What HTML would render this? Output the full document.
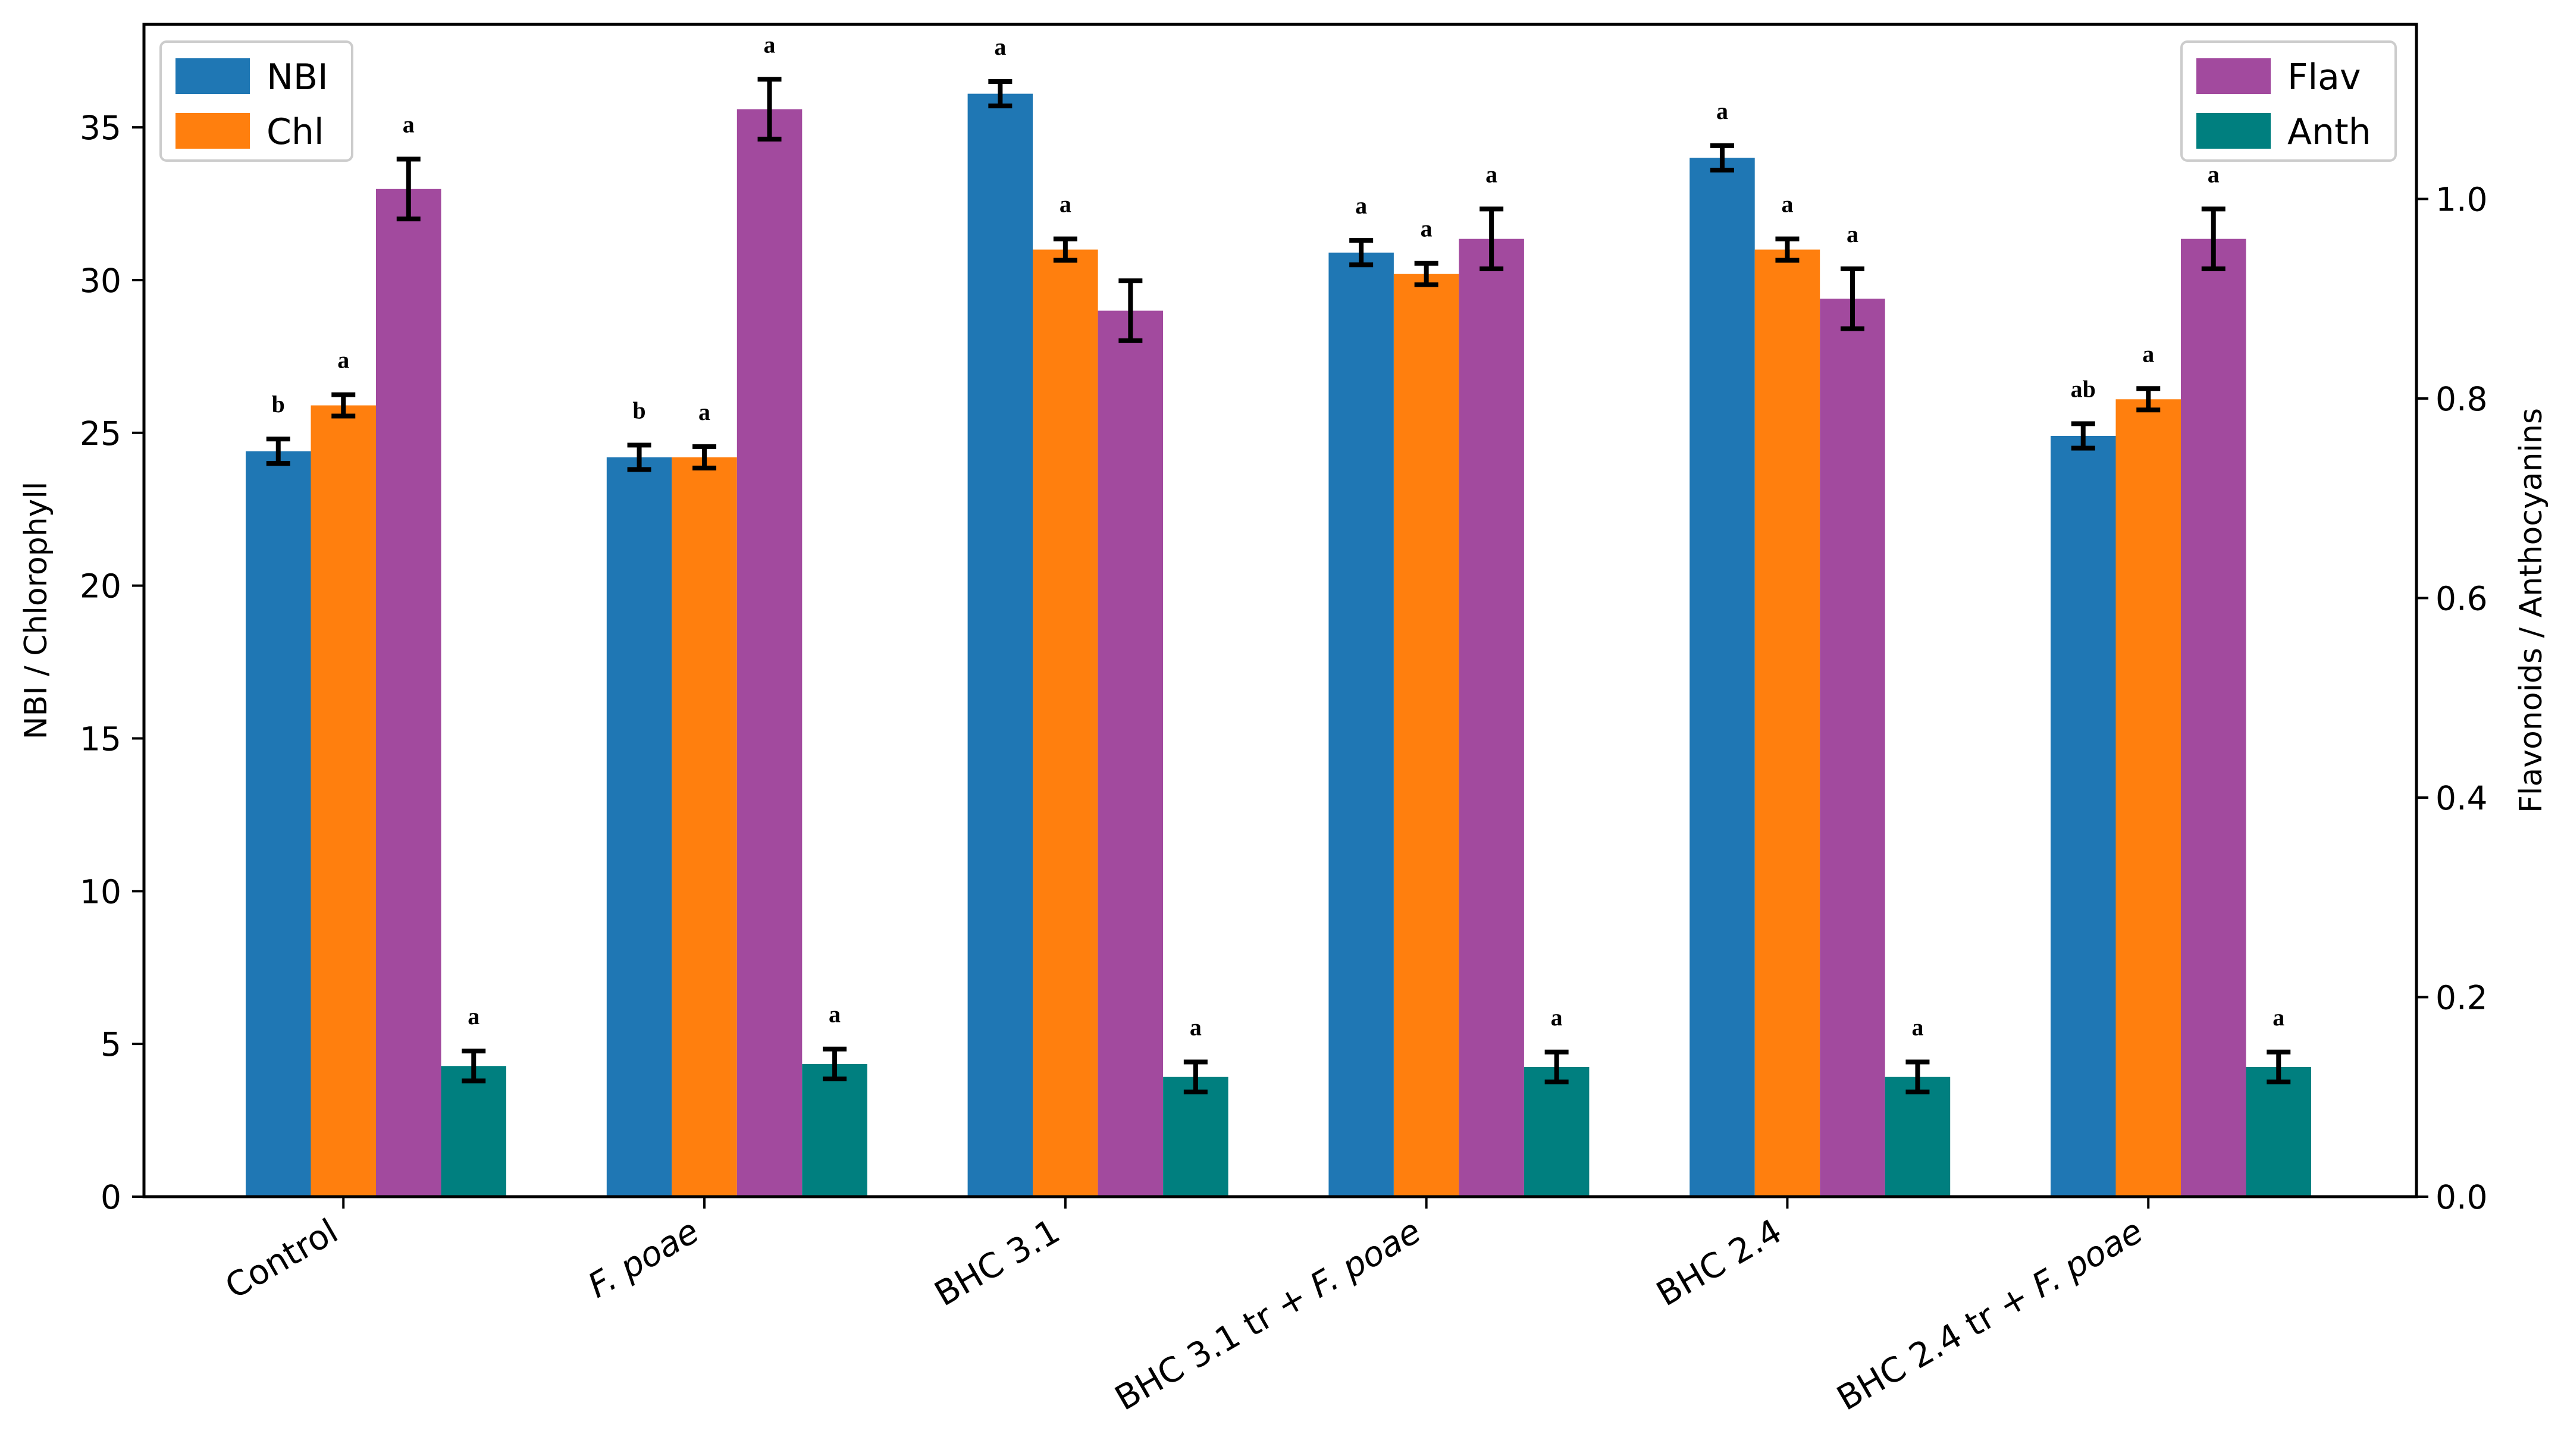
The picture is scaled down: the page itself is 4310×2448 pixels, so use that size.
<!DOCTYPE html>
<html><head><meta charset="utf-8"><style>
html,body{margin:0;padding:0;background:#fff;}
svg{display:block;font-family:"DejaVu Sans","Liberation Sans",sans-serif;}
</style></head><body>
<svg id="chart" width="4310" height="2448" viewBox="0 0 4310 2448" xmlns="http://www.w3.org/2000/svg">
<rect width="4310" height="2448" fill="#fff"/>
<g id="bars"></g>
<g id="axes"></g>
</svg>
<script>
const categories = ["Control", "F. poae", "BHC 3.1", "BHC 3.1 tr + F. poae", "BHC 2.4", "BHC 2.4 tr + F. poae"];
const nbi = [24.4, 24.2, 36.1, 30.9, 34.0, 24.9];
const nbiErr = [0.4, 0.4, 0.4, 0.4, 0.4, 0.4];
const chl = [25.9, 24.2, 31.0, 30.2, 31.0, 26.1];
const chlErr = [0.35, 0.35, 0.35, 0.35, 0.35, 0.35];
const flav = [1.01, 1.09, 0.888, 0.96, 0.90, 0.96];
const flavErr = [0.03, 0.03, 0.03, 0.03, 0.03, 0.03];
const anth = [0.131, 0.133, 0.12, 0.13, 0.12, 0.13];
const anthErr = [0.015, 0.015, 0.015, 0.015, 0.015, 0.015];
const nbiLetters = ["b","b","a","a","a","ab"];
const chlLetters = ["a","a","a","a","a","a"];
const flavLetters = ["a","a","","a","a","a"];
const anthLetters = ["a","a","a","a","a","a"];
const leftTicks = [0,5,10,15,20,25,30,35];
const rightTicks = [0.0,0.2,0.4,0.6,0.8,1.0];

const NS="http://www.w3.org/2000/svg";
const L=242, R=4062, T=41, B=2012;
const leftMax=38.37, rightMax=1.175;
const yL=v=>B-(v/leftMax)*(B-T);
const yR=v=>B-(v/rightMax)*(B-T);
const barW=109.5, g0=413, gStep=606.8;
const xBar=(i,k)=>g0+i*gStep+k*barW;
const bars=document.getElementById('bars');
const axes=document.getElementById('axes');
function mk(tag,attrs,parent){const e=document.createElementNS(NS,tag);for(const k in attrs)e.setAttribute(k,attrs[k]);parent.appendChild(e);return e;}

const series=[
 {vals:nbi,err:nbiErr,lets:nbiLetters,col:"#1f77b4",y:yL,name:"nbi"},
 {vals:chl,err:chlErr,lets:chlLetters,col:"#ff7f0e",y:yL,name:"chl"},
 {vals:flav,err:flavErr,lets:flavLetters,col:"#a24a9e",y:yR,name:"flav"},
 {vals:anth,err:anthErr,lets:anthLetters,col:"#007f7f",y:yR,name:"anth"}];
series.forEach((s,k)=>{
 s.vals.forEach((v,i)=>{
  const x=xBar(i,k), y=s.y(v);
  const r=mk('rect',{x:x,y:y,width:barW,height:B-y,fill:s.col},bars);
  
  
  const cx=x+barW/2, yt=s.y(v+s.err[i]), yb=s.y(v-s.err[i]);
  const eb=mk('path',{d:`M${cx},${yt}V${yb}M${cx-20},${yt}H${cx+20}M${cx-20},${yb}H${cx+20}`,stroke:"#000","stroke-width":8,fill:"none"},bars);
  
  
  if(s.lets[i]){
   const t=mk('text',{x:cx,y:yt-45,"text-anchor":"middle","font-family":"Liberation Serif, serif","font-weight":"bold","font-size":40},bars);
   t.textContent=s.lets[i];
   
   
  }
 });
});
const fr=mk('rect',{x:L,y:T,width:R-L,height:B-T,fill:"none",stroke:"#000","stroke-width":5},axes);


leftTicks.forEach(v=>{
 const y=yL(v);
 mk('line',{x1:L-20,x2:L,y1:y,y2:y,stroke:"#000","stroke-width":4},axes);
 const t=mk('text',{x:L-38,y:y+20,"text-anchor":"end","font-size":55},axes);
 t.textContent=String(v);
 
 
});
rightTicks.forEach(v=>{
 const y=yR(v);
 mk('line',{x1:R,x2:R+20,y1:y,y2:y,stroke:"#000","stroke-width":4},axes);
 const t=mk('text',{x:R+32,y:y+20,"text-anchor":"start","font-size":55},axes);
 t.textContent=v.toFixed(1);
 
 
});
categories.forEach((c,i)=>{
 const tx=xBar(i,1)+barW/2;
 mk('line',{x1:tx,x2:tx,y1:B,y2:B+20,stroke:"#000","stroke-width":4},axes);
 const ax=tx-5, ay=B+70;
 const t=mk('text',{x:ax,y:ay,"text-anchor":"end","font-size":57,transform:`rotate(-30 ${ax} ${ay})`},axes);
 
 
 const parts=c.split("F. poae");
 if(parts.length>1){
  if(parts[0]){const a=mk('tspan',{},t);a.textContent=parts[0];}
  const b=mk('tspan',{"font-style":"italic"},t);b.textContent="F.  poae";
 } else t.textContent=c;
});
const yl=mk('text',{x:0,y:0,"text-anchor":"middle","font-size":52,transform:`translate(78 ${(T+B)/2}) rotate(-90)`},axes);
yl.textContent="NBI / Chlorophyll";


const yr=mk('text',{x:0,y:0,"text-anchor":"middle","font-size":52,transform:`translate(4272 ${(T+B)/2}) rotate(-90)`},axes);
yr.textContent="Flavonoids / Anthocyanins";


function legend(x,y,w,items,nm){
 const g=mk('g',{},axes);
 
 
 mk('rect',{x:x,y:y,width:w,height:200,rx:10,fill:"#fff",stroke:"#ccc","stroke-width":4},g);
 items.forEach((it,j)=>{
  const yy=y+28+j*92;
  mk('rect',{x:x+25,y:yy,width:125,height:60,fill:it[1]},g);
  const t=mk('text',{x:x+178,y:yy+52,"font-size":60},g);
  t.textContent=it[0];
  
  
 });
}
legend(270,70,322,[["NBI","#1f77b4"],["Chl","#ff7f0e"]],"legend-left");
legend(3667,70,360,[["Flav","#a24a9e"],["Anth","#007f7f"]],"legend-right");
</script>
</body></html>
